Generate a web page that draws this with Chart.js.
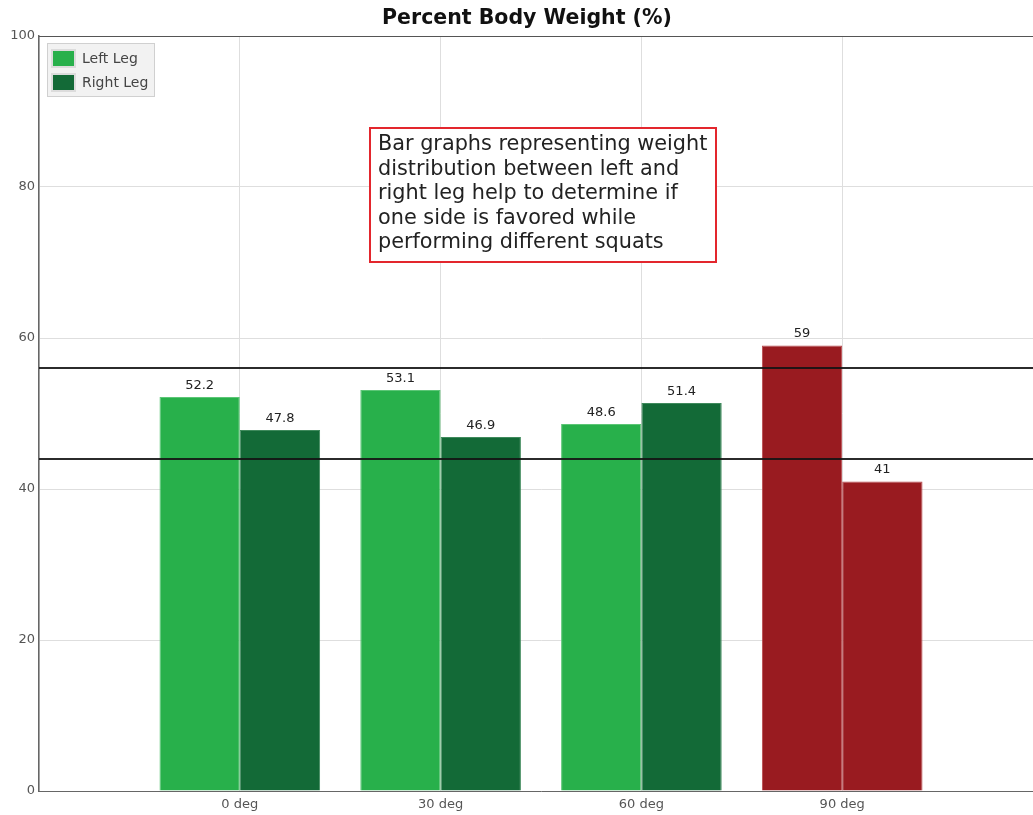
<!DOCTYPE html>
<html>
<head>
<meta charset="utf-8">
<title>Percent Body Weight</title>
<script src="https://cdn.jsdelivr.net/npm/chart.js@4.4.1/dist/chart.umd.min.js"></script>
<style>
  html, body { margin: 0; padding: 0; background: #fff; overflow: hidden; }
  #frame { width: 1033px; height: 815px; overflow: hidden; }
  /* plot runs a little past the right edge of the page */
  #wrap { position: relative; width: 1043px; height: 815px; }
</style>
</head>
<body>
<div id="frame"><div id="wrap"><canvas id="weightChart"></canvas></div></div>
<script>
// squat angles and % body weight on each leg
const categories = ["0 deg", "30 deg", "60 deg", "90 deg"];
const leftLeg = [52.2, 53.1, 48.6, 59];
const rightLeg = [47.8, 46.9, 51.4, 41];
const leftColors = ["#28b04b", "#28b04b", "#28b04b", "#991b20"];
const rightColors = ["#136a37", "#136a37", "#136a37", "#991b20"];
const leftBorders = ["#5cc676", "#5cc676", "#5cc676", "#b8484c"];
const rightBorders = ["#3f8a5c", "#3f8a5c", "#3f8a5c", "#b8484c"];
const limits = [44, 56];
const chartTitle = "Percent Body Weight (%)";
const noteLines = [
  "Bar graphs representing weight",
  "distribution between left and",
  "right leg help to determine if",
  "one side is favored while",
  "performing different squats"
];

const FONT = "Verdana, 'DejaVu Sans', sans-serif";

// one empty slot each side so the bars sit like the original layout
const labels = ["", ...categories, ""];
const pad = (arr) => [null, ...arr, null];

// title, top border, threshold lines, bar values, legend and note
const overlayPlugin = {
  id: "overlay",
  beforeDatasetsDraw(chart) {
    const { ctx, chartArea } = chart;
    ctx.save();
    ctx.strokeStyle = "#555";
    ctx.lineWidth = 1;
    ctx.beginPath();
    ctx.moveTo(chartArea.left, chartArea.top + 0.5);
    ctx.lineTo(chartArea.right, chartArea.top + 0.5);
    ctx.stroke();

    ctx.fillStyle = "#111";
    ctx.font = "bold 20.5px " + FONT;
    ctx.textAlign = "center";
    ctx.textBaseline = "middle";
    ctx.fillText(chartTitle, 527, 19);
    ctx.restore();
  },
  afterDatasetsDraw(chart) {
    const { ctx, chartArea, scales } = chart;
    ctx.save();
    ctx.strokeStyle = "rgba(20,20,20,0.9)";
    ctx.lineWidth = 2;
    limits.forEach((v) => {
      const y = Math.round(scales.y.getPixelForValue(v));
      ctx.beginPath();
      ctx.moveTo(chartArea.left, y);
      ctx.lineTo(chartArea.right, y);
      ctx.stroke();
    });

    ctx.fillStyle = "#222";
    ctx.font = "13px " + FONT;
    ctx.textAlign = "center";
    ctx.textBaseline = "bottom";
    chart.data.datasets.forEach((ds, i) => {
      chart.getDatasetMeta(i).data.forEach((bar, j) => {
        const v = ds.data[j];
        if (v === null) return;
        ctx.fillText(String(v), bar.x, bar.y - 5);
      });
    });
    ctx.restore();
  },
  afterDraw(chart) {
    const { ctx, chartArea } = chart;
    ctx.save();

    // legend box
    const lx = chartArea.left + 8, ly = chartArea.top + 7;
    ctx.fillStyle = "#f2f2f2";
    ctx.fillRect(lx, ly, 108, 54);
    ctx.strokeStyle = "#d0d0d0";
    ctx.lineWidth = 1;
    ctx.strokeRect(lx + 0.5, ly + 0.5, 107, 53);
    chart.data.datasets.forEach((ds, i) => {
      const sy = ly + 6 + i * 24;
      ctx.fillStyle = "#dcdcdc";
      ctx.fillRect(lx + 4, sy, 25, 19);
      ctx.fillStyle = ds.backgroundColor[1];
      ctx.fillRect(lx + 6, sy + 2, 21, 15);
      ctx.fillStyle = "#444";
      ctx.font = "14px " + FONT;
      ctx.textAlign = "left";
      ctx.textBaseline = "middle";
      ctx.fillText(ds.label, lx + 35, sy + 10);
    });

    // note box
    const bx = 370, by = 128, bw = 346, bh = 134;
    ctx.fillStyle = "#fff";
    ctx.fillRect(bx, by, bw, bh);
    ctx.strokeStyle = "#e3262d";
    ctx.lineWidth = 2;
    ctx.strokeRect(bx, by, bw, bh);
    ctx.fillStyle = "#222";
    ctx.font = "20.8px " + FONT;
    ctx.textAlign = "left";
    ctx.textBaseline = "middle";
    noteLines.forEach((line, i) => {
      ctx.fillText(line, bx + 8, by + 17 + i * 24.5);
    });
    ctx.restore();
  }
};

new Chart(document.getElementById("weightChart"), {
  type: "bar",
  data: {
    labels: labels,
    datasets: [
      {
        label: "Left Leg",
        data: pad(leftLeg),
        backgroundColor: pad(leftColors),
        borderColor: pad(leftBorders),
        borderWidth: 1,
      },
      {
        label: "Right Leg",
        data: pad(rightLeg),
        backgroundColor: pad(rightColors),
        borderColor: pad(rightBorders),
        borderWidth: 1,
      },
    ],
  },
  options: {
    responsive: true,
    maintainAspectRatio: false,
    animation: false,
    layout: { padding: { top: 36, right: 0, bottom: 0, left: 0 } },
    datasets: {
      bar: { categoryPercentage: 0.8, barPercentage: 1.0 },
    },
    plugins: {
      legend: { display: false },
      tooltip: { enabled: false },
      title: { display: false },
    },
    scales: {
      x: {
        offset: false,
        grid: { color: "#dedede", drawTicks: false, offset: false },
        border: { color: "#666", width: 1 },
        ticks: {
          color: "#555",
          font: { family: FONT, size: 13 },
          padding: 6,
          maxRotation: 0,
          autoSkip: false,
        },
        afterFit(scale) {
          scale.height = 24;
          scale.paddingRight = 0;
          scale.paddingLeft = 0;
        },
      },
      y: {
        min: 0,
        max: 100,
        grid: { color: "#dedede", drawTicks: false },
        border: { color: "#666", width: 1.5 },
        ticks: {
          stepSize: 20,
          color: "#555",
          font: { family: FONT, size: 13 },
          padding: 4,
        },
        afterFit(scale) {
          scale.width = 39;
          scale.paddingTop = 0;
          scale.paddingBottom = 0;
        },
      },
    },
  },
  plugins: [overlayPlugin],
});
</script>
</body>
</html>
